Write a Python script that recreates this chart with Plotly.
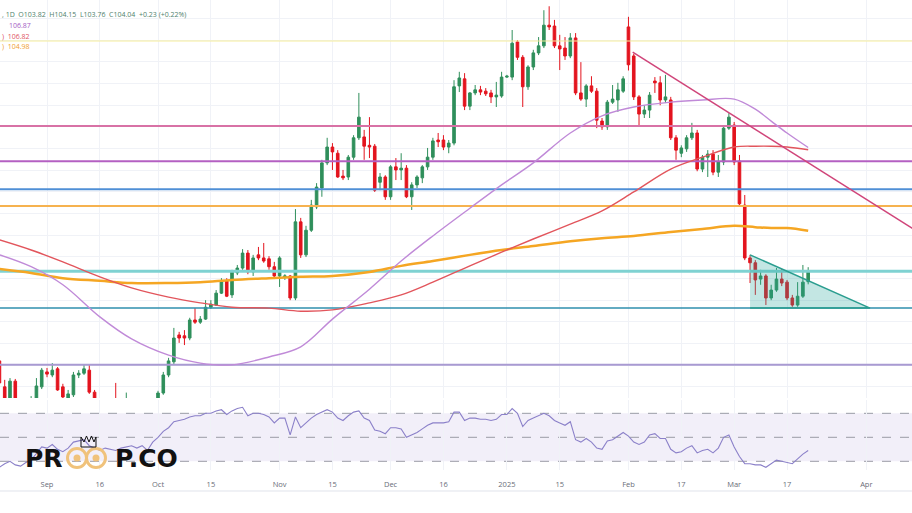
import pandas as pd
import plotly.graph_objects as go

# daily bars, 2024-08-20 .. 2025-03-21 (weekdays)
dates = pd.bdate_range("2024-08-20", "2025-03-21")

opens = [
    102.02, 101.43, 101.10, 101.56, 101.08, 100.85, 100.98, 101.10, 101.43,
    101.77, 101.70, 101.84, 101.43, 101.13, 101.25, 101.70, 101.74, 101.81, 101.31,
    101.00, 100.70, 100.90, 100.62, 100.55, 100.72, 100.90, 100.45, 100.35, 100.85,
    100.40, 100.78, 101.29, 101.70, 102.00, 102.61, 102.59, 102.54, 102.95, 102.90,
    102.97, 103.24, 103.29, 103.56, 103.84, 103.52, 104.02, 104.13, 104.47, 104.04,
    104.43, 104.36, 104.34, 104.16, 103.95, 103.93, 103.95, 103.45, 105.18, 104.43,
    104.99, 105.52, 105.95, 106.52, 106.88, 106.74, 106.22, 106.20, 106.65, 107.09,
    107.11, 106.92, 106.90, 106.08, 106.20, 105.75, 106.43, 106.36, 106.40, 105.75,
    106.02, 106.18, 106.43, 106.65, 107.04, 107.04, 106.88, 106.97, 108.27, 108.43,
    107.81, 108.11, 108.18, 108.15, 108.11, 108.02, 108.04, 108.47, 108.47, 109.27,
    108.92, 108.25, 108.70, 109.02, 109.18, 109.65, 109.63, 109.18, 109.13, 108.95,
    109.36, 108.11, 107.97, 108.27, 108.15, 107.47, 107.34, 107.90, 107.95, 108.15,
    109.61, 108.95, 108.02, 107.63, 107.72, 108.38, 108.34, 107.95, 107.95, 107.09,
    106.74, 106.84, 107.09, 107.20, 106.38, 106.65, 106.72, 106.31, 106.54, 107.31,
    107.38, 106.56, 105.56, 104.36, 104.25, 103.88, 103.95, 103.45, 103.63, 103.88,
    103.81, 103.45, 103.29, 103.49, 103.82,
]
highs = [
    102.09, 101.59, 101.63, 101.61, 101.12, 101.05, 101.22, 101.63, 101.86,
    101.86, 101.97, 101.88, 101.50, 101.36, 101.77, 101.81, 101.93, 101.93, 101.36,
    101.10, 100.95, 101.05, 101.52, 100.90, 101.30, 101.05, 100.60, 100.95, 100.95,
    100.85, 101.34, 101.77, 102.09, 102.77, 102.68, 102.72, 103.00, 103.22, 103.04,
    103.40, 103.40, 103.63, 103.90, 103.90, 104.09, 104.20, 104.56, 104.54, 104.43,
    104.61, 104.70, 104.40, 104.27, 104.40, 103.99, 103.97, 105.47, 105.27, 105.09,
    105.68, 106.06, 106.59, 107.09, 106.97, 106.81, 106.36, 106.70, 107.15, 108.11,
    107.27, 107.56, 106.95, 106.29, 106.24, 106.47, 106.63, 106.74, 106.47, 106.08,
    106.24, 106.47, 106.86, 107.09, 107.20, 107.15, 107.04, 108.40, 108.59, 108.56,
    108.13, 108.29, 108.27, 108.22, 108.18, 108.36, 108.59, 108.52, 109.54, 109.31,
    108.97, 108.74, 109.09, 109.38, 109.99, 110.08, 109.77, 109.43, 109.38, 109.47,
    109.47, 108.81, 108.31, 108.49, 108.22, 107.54, 107.95, 108.29, 108.34, 108.49,
    109.84, 109.00, 108.06, 107.83, 108.13, 108.47, 108.49, 108.52, 108.02, 107.15,
    106.92, 107.15, 107.43, 107.27, 106.70, 106.81, 106.81, 106.70, 107.38, 107.65,
    107.45, 106.70, 105.79, 104.43, 104.31, 104.09, 103.99, 103.75, 104.13, 104.11,
    103.86, 103.52, 103.81, 104.20, 104.15,
]
lows = [
    101.47, 101.08, 100.98, 100.95, 100.75, 100.70, 100.90, 100.98, 101.38,
    101.65, 101.65, 101.34, 101.13, 101.08, 101.20, 101.63, 101.70, 101.27, 100.90,
    100.62, 100.60, 100.50, 100.20, 100.45, 100.70, 100.40, 100.25, 100.30, 100.35,
    100.20, 100.70, 101.25, 101.65, 101.95, 102.43, 102.38, 102.49, 102.86, 102.86,
    102.95, 103.20, 103.27, 103.54, 103.47, 103.45, 103.97, 104.09, 103.99, 103.95,
    104.31, 104.25, 104.09, 103.88, 103.70, 103.86, 103.40, 103.40, 104.36, 104.38,
    104.95, 105.47, 105.75, 106.47, 106.36, 106.18, 106.13, 106.13, 106.59, 107.04,
    106.59, 106.63, 105.86, 105.90, 105.68, 105.68, 106.13, 106.13, 105.72, 105.45,
    105.95, 106.06, 106.36, 106.59, 106.88, 106.81, 106.74, 106.92, 108.13, 107.72,
    107.72, 108.06, 108.06, 108.04, 107.88, 107.79, 108.00, 108.45, 108.40, 108.86,
    107.79, 108.18, 108.63, 108.97, 109.13, 109.54, 109.13, 108.63, 108.86, 108.90,
    108.06, 107.93, 107.79, 108.11, 107.31, 107.27, 107.27, 107.86, 107.68, 108.11,
    108.62, 107.95, 107.34, 107.54, 107.54, 108.11, 107.83, 107.88, 107.04, 106.59,
    106.65, 106.77, 107.04, 106.33, 106.31, 106.20, 106.24, 106.20, 106.47, 107.27,
    106.47, 105.54, 104.31, 103.79, 103.52, 103.75, 103.29, 103.40, 103.59, 103.72,
    103.40, 103.25, 103.25, 103.45, 103.76,
]
closes = [
    101.52, 101.13, 101.56, 101.10, 100.85, 100.98, 101.10, 101.45, 101.81,
    101.72, 101.81, 101.36, 101.20, 101.27, 101.70, 101.74, 101.84, 101.31, 101.00,
    100.70, 100.90, 100.62, 100.55, 100.72, 100.90, 100.45, 100.35, 100.85, 100.40,
    100.78, 101.29, 101.70, 102.02, 102.54, 102.54, 102.54, 102.95, 102.90, 102.97,
    103.24, 103.31, 103.56, 103.84, 103.49, 104.04, 104.13, 104.47, 104.04, 104.36,
    104.36, 104.29, 104.16, 103.95, 104.36, 103.95, 103.45, 105.18, 104.43, 104.99,
    105.56, 105.97, 106.52, 106.88, 106.77, 106.20, 106.18, 106.65, 107.09, 107.56,
    106.90, 106.88, 105.90, 106.20, 105.75, 106.43, 106.36, 106.40, 105.75, 106.02,
    106.20, 106.43, 106.65, 107.02, 107.00, 106.88, 106.97, 108.25, 108.45, 107.81,
    108.11, 108.18, 108.13, 108.09, 108.02, 108.06, 108.47, 108.49, 109.24, 108.92,
    108.25, 108.70, 109.02, 109.18, 109.65, 109.61, 109.18, 109.11, 108.95, 109.36,
    108.11, 107.97, 108.27, 108.15, 107.49, 107.34, 107.90, 107.97, 108.18, 108.43,
    108.75, 108.02, 107.63, 107.72, 108.06, 108.34, 107.95, 108.02, 107.09, 106.81,
    106.86, 107.09, 107.20, 106.38, 106.65, 106.72, 106.31, 106.54, 107.31, 107.56,
    106.54, 105.59, 104.36, 104.25, 103.86, 103.95, 103.45, 103.63, 103.88, 103.79,
    103.45, 103.29, 103.49, 103.81, 104.04,
]

# RSI(14), one value per bar
rsi = [
    25, 28, 30, 27, 26, 29, 31, 37, 42,
    41, 44, 40, 38, 41, 46, 47, 48, 43, 41,
    39, 41, 40, 39, 41, 42, 43, 41, 43, 39,
    46, 50, 55, 58, 63, 64, 65, 67, 68, 68,
    70, 70, 72, 73, 69, 72, 74, 75, 68, 70,
    70, 69, 67, 62, 66, 66, 52, 67, 58, 62,
    66, 69, 71, 73, 71, 66, 64, 68, 71, 72,
    66, 64, 56, 55, 53, 58, 58, 57, 50, 52,
    54, 57, 60, 62, 62, 62, 63, 71, 71, 64,
    66, 66, 65, 65, 64, 65, 69, 69, 74, 70,
    59, 64, 66, 68, 70, 68, 64, 62, 60, 63,
    48, 46, 49, 46, 41, 40, 47, 48, 51, 54,
    51, 46, 44, 46, 52, 53, 49, 49, 40, 37,
    38, 41, 43, 37, 39, 40, 37, 41, 50, 52,
    42, 34, 28, 28, 27, 27, 25, 28, 31, 30,
    29, 28, 32, 36, 39,
]

# moving averages read at these dates
ma_dates = [
    "2024-08-20", "2024-08-28", "2024-09-05", "2024-09-16", "2024-09-24", "2024-10-03",
    "2024-10-11", "2024-10-21", "2024-10-30", "2024-11-07", "2024-11-15", "2024-11-26",
    "2024-12-04", "2024-12-12", "2024-12-23", "2024-12-31", "2025-01-08", "2025-01-17",
    "2025-01-27", "2025-02-04", "2025-02-13", "2025-02-21", "2025-03-03", "2025-03-07",
    "2025-03-12", "2025-03-17", "2025-03-21",
]
ma_fast = [104.43, 104.16, 103.75, 103.02, 102.52, 102.15, 101.97, 101.93, 102.11,
           102.34, 102.97, 103.65, 104.29, 104.86, 105.49, 106.02, 106.52, 107.20,
           107.59, 107.79, 107.90, 107.95, 107.97, 107.74, 107.47, 107.20, 106.87]
ma_mid = [104.77, 104.54, 104.27, 103.93, 103.68, 103.47, 103.34, 103.24, 103.22,
          103.15, 103.18, 103.34, 103.52, 103.81, 104.18, 104.49, 104.79, 105.13,
          105.43, 105.86, 106.38, 106.65, 106.88, 106.90, 106.90, 106.88, 106.82]
ma_slow = [104.11, 104.02, 103.90, 103.84, 103.79, 103.79, 103.81, 103.86, 103.90,
           103.93, 103.95, 104.04, 104.18, 104.29, 104.43, 104.54, 104.63, 104.74,
           104.81, 104.86, 104.95, 105.02, 105.09, 105.06, 105.04, 105.04, 104.98]

# horizontal levels drawn on the chart
levels = [109.29, 107.36, 106.56, 105.92, 105.54, 104.06, 103.22, 101.93]
level_colors = ["#f6ee9c", "#d872a6", "#b460c2", "#4f8fd6", "#f6b24f",
                "#7fd2d2", "#2f8fae", "#a99ad2"]
level_widths = [1.2, 2, 2, 2, 2, 3, 1.5, 2]

# falling trendline and descending triangle (bar position, price)
trend_x = [119.8, 175.0]
trend_y = [109.04, 104.86]
tri_x = [142.0, 164.7, 142.0]
tri_y = [104.43, 103.22, 103.22]

tick_dates = ["2024-09-02", "2024-09-16", "2024-10-01", "2024-10-15", "2024-11-01",
              "2024-11-15", "2024-12-02", "2024-12-16", "2025-01-01", "2025-01-15",
              "2025-02-03", "2025-02-17", "2025-03-03", "2025-03-17", "2025-04-01"]
tick_text = ["Sep", "16", "Oct", "15", "Nov", "15", "Dec", "16", "2025", "15",
             "Feb", "17", "Mar", "17", "Apr"]

GREEN = "#2f8f5b"
RED = "#e3141e"

pos = {d: i for i, d in enumerate(dates)}


def bar_pos(d):
    d = pd.Timestamp(d)
    if d in pos:
        return pos[d]
    # future area: one slot per calendar day
    return len(dates) - 1 + (d - dates[-1]).days


xs = list(range(len(dates)))
ma_x = [bar_pos(d) for d in ma_dates]
tick_pos = [bar_pos(d) for d in tick_dates]

x_left = 9 - 47 / 5.286
x_right = x_left + 912 / 5.286
grid = "#f0f2f7"

fig = go.Figure()

# levels as traces so they sit above the grid but under the candles
for lvl, col, w in zip(levels, level_colors, level_widths):
    fig.add_trace(go.Scatter(x=[x_left - 5, x_right + 5], y=[lvl, lvl], mode="lines",
                             line=dict(color=col, width=w)))

fig.add_trace(go.Scatter(x=ma_x, y=ma_slow, mode="lines", line=dict(color="#f5a623", width=2.5, shape="spline")))
fig.add_trace(go.Scatter(x=ma_x, y=ma_mid, mode="lines", line=dict(color="#e2555c", width=1.4, shape="spline")))
fig.add_trace(go.Scatter(x=ma_x, y=ma_fast, mode="lines", line=dict(color="#c08ad8", width=1.4, shape="spline")))

fig.add_trace(go.Candlestick(
    x=xs, open=opens, high=highs, low=lows, close=closes,
    increasing=dict(line=dict(color=GREEN, width=1), fillcolor=GREEN),
    decreasing=dict(line=dict(color=RED, width=1), fillcolor=RED),
    whiskerwidth=0,
))

fig.add_trace(go.Scatter(x=tri_x, y=tri_y, mode="lines", fill="toself",
                         fillcolor="rgba(38,166,154,0.28)",
                         line=dict(color="#2a9d8f", width=1.5)))
fig.add_trace(go.Scatter(x=trend_x, y=trend_y, mode="lines",
                         line=dict(color="#d0457a", width=1.5)))

fig.add_trace(go.Scatter(x=xs, y=rsi, mode="lines", xaxis="x2", yaxis="y2",
                         line=dict(color="#8b80c9", width=1.1)))

# RSI band and guide lines
fig.add_shape(type="rect", xref="x2 domain", x0=0, x1=1, yref="y2", y0=30, y1=70,
              fillcolor="#f2eff9", line_width=0, layer="below")
for g in [70, 50, 30]:
    fig.add_shape(type="line", xref="x2 domain", x0=0, x1=1, yref="y2", y0=g, y1=g,
                  line=dict(color="#9a9ca6", width=1, dash="dash"), layer="below")
fig.add_shape(type="line", xref="paper", x0=0, x1=1, yref="paper", y0=0.0429, y1=0.0429,
              line=dict(color="#e0e3eb", width=1))

# header text
hdr_font = dict(family="Open Sans", size=7)
fig.add_annotation(x=0, y=1 - 15 / 513, xref="paper", yref="paper", xanchor="left", yanchor="middle",
                   text=", 1D  O103.82  H104.15  L103.76  C104.04  +0.23 (+0.22%)",
                   showarrow=False, font=dict(hdr_font, color="#4f7f6c"))
fig.add_annotation(x=7 / 912, y=1 - 25 / 513, xref="paper", yref="paper", xanchor="left", yanchor="middle",
                   text="106.87", showarrow=False, font=dict(hdr_font, color="#a45cc4"))
fig.add_annotation(x=0, y=1 - 36 / 513, xref="paper", yref="paper", xanchor="left", yanchor="middle",
                   text=")  106.82", showarrow=False, font=dict(hdr_font, color="#e0555f"))
fig.add_annotation(x=0, y=1 - 46 / 513, xref="paper", yref="paper", xanchor="left", yanchor="middle",
                   text=")  104.98", showarrow=False, font=dict(hdr_font, color="#f0a030"))

# watermark logo
logo_y = 1 - 458 / 513
fig.add_annotation(x=23 / 912, y=logo_y, xref="paper", yref="paper", xanchor="left", yanchor="middle",
                   text="<b>PR</b>", showarrow=False, font=dict(family="DejaVu Sans", size=25, color="#111111"))
fig.add_annotation(x=113 / 912, y=logo_y, xref="paper", yref="paper", xanchor="left", yanchor="middle",
                   text="<b>P.CO</b>", showarrow=False, font=dict(family="DejaVu Sans", size=25, color="#111111"))
for cx in [77, 96]:
    fig.add_shape(type="circle", xref="paper", yref="paper",
                  x0=(cx - 9.5) / 912, x1=(cx + 9.5) / 912, y0=1 - 467.5 / 513, y1=1 - 448.5 / 513,
                  line=dict(color="#f0c27b", width=3))
    fig.add_shape(type="circle", xref="paper", yref="paper",
                  x0=(cx - 3.5) / 912, x1=(cx + 3.5) / 912, y0=1 - 461.5 / 513, y1=1 - 454.5 / 513,
                  fillcolor="#f0c27b", line_width=0)
# small crown above the eyes
crown = [(81, 447), (81, 437), (84, 442), (86.5, 436), (89, 442), (91.5, 436), (94, 442), (96, 437), (96, 447)]
crown_path = "M " + " L ".join(f"{px / 912:.5f},{1 - py / 513:.5f}" for px, py in crown) + " Z"
fig.add_shape(type="path", xref="paper", yref="paper", path=crown_path,
              line=dict(color="#111111", width=1), fillcolor="rgba(0,0,0,0)")

fig.update_layout(
    width=912, height=513,
    margin=dict(l=0, r=0, t=0, b=0),
    paper_bgcolor="white", plot_bgcolor="white",
    showlegend=False, hovermode=False,
    xaxis=dict(domain=[0, 1], range=[x_left, x_right], anchor="y", tickvals=tick_pos,
               showticklabels=False, showgrid=True, gridcolor=grid, zeroline=False,
               rangeslider=dict(visible=False)),
    yaxis=dict(domain=[1 - 398 / 513, 1], range=[101.177, 110.222], showticklabels=False,
               showgrid=True, gridcolor=grid, tick0=108.82, dtick=0.4925, zeroline=False),
    xaxis2=dict(domain=[0, 1], range=[x_left, x_right], anchor="y2", tickvals=tick_pos,
                ticktext=tick_text, showgrid=True, gridcolor=grid, zeroline=False,
                tickfont=dict(family="Open Sans", size=7.5, color="#6a6d78"),
                ticks="", ticklabelstandoff=8),
    yaxis2=dict(domain=[1 - 470 / 513, 1 - 400 / 513], range=[22.75, 81.1],
                showticklabels=False, showgrid=False, zeroline=False),
)

fig.write_html("out.html", config={"displayModeBar": False},
               post_script="document.body.style.margin='0';document.body.style.overflow='hidden';")
